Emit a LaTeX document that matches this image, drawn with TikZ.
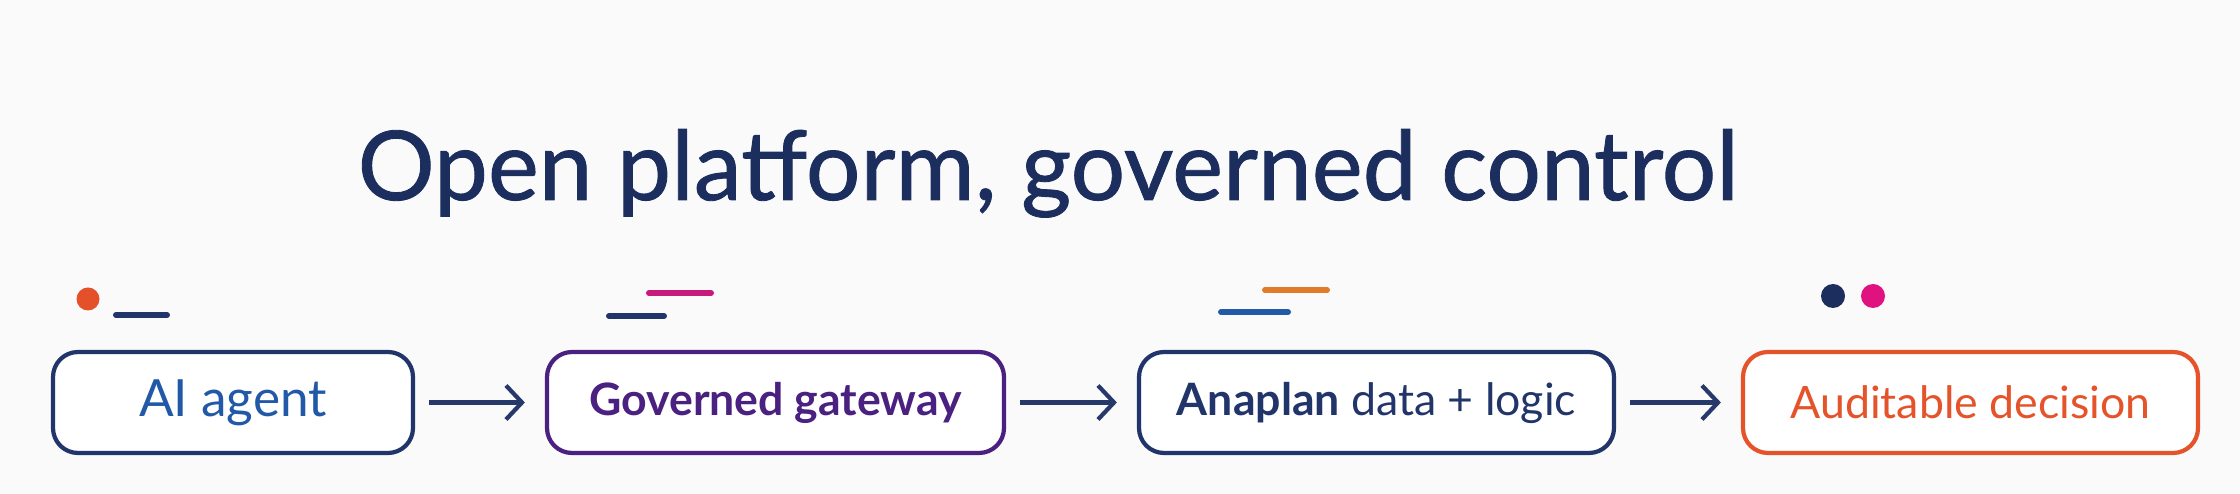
\documentclass[tikz,border=0pt]{standalone}
\usepackage{fontspec}
\setmainfont{Lato}
\newfontfamily\titlefont{Lato}[FakeBold=0.9]
\usetikzlibrary{arrows.meta}

\definecolor{bgwhite}{HTML}{FAFAFB}
\definecolor{titlenavy}{HTML}{1C2E5E}
\definecolor{boxnavy}{HTML}{22356A}
\definecolor{textblue}{HTML}{2159A8}
\definecolor{gatepurple}{HTML}{4A2080}
\definecolor{decorange}{HTML}{E5532B}
\definecolor{arrownavy}{HTML}{27396B}
\definecolor{dotorange}{HTML}{E4502A}
\definecolor{dashmagenta}{HTML}{C81A7C}
\definecolor{dotmagenta}{HTML}{E0127F}
\definecolor{dashblue}{HTML}{2359A6}
\definecolor{dashorange}{HTML}{E07B2A}

\tikzset{
  stepbox/.style={draw, rounded corners=0.25cm, line width=1.2pt,
    minimum height=1.01cm, inner sep=0pt, fill=white,
    font=\fontsize{12.7}{15}\selectfont},
  flow/.style={-{Straight Barb[length=1.6mm,width=3.4mm]}, line width=1.2pt,
    draw=arrownavy, shorten <=0.14cm, shorten >=0.2cm},
  tick/.style={line width=1.7pt, line cap=round},
}

\begin{document}
\begin{tikzpicture}
		\fill[bgwhite] (0,0) rectangle (22.4,4.94);
		\useasboundingbox (0,0) rectangle (22.4,4.94);
		
		%%%%%%%%%%%%%%%%% title %%%%%%%%%%%%%%%%%%%%%%
		\node[anchor=base west, inner sep=0pt, text=titlenavy,
		font=\titlefont\fontsize{27.4}{33}\selectfont] (title) at (3.57,2.94)
		{Open platform, governed control};
		
		%%%%%%%%%%%%%%%%% vertices %%%%%%%%%%%%%%%%%%%
		%  name/x/width/border/text colour/label
		\foreach \name/\x/\w/\col/\tcol/\lab in
		{agent/2.33/3.60/boxnavy/textblue/{\fontsize{14.6}{17}\selectfont AI agent},
			gateway/7.755/4.57/gatepurple/gatepurple/{\textbf{Governed gateway}},
			anaplan/13.765/4.75/boxnavy/boxnavy/{\textbf{Anaplan} data + logic},
			decision/19.705/4.55/decorange/decorange/{Auditable decision}}
		{\node[stepbox, draw=\col, text=\tcol, minimum width=\w cm] (\name) at (\x,0.915) {\lab};}
		
		%%%%%%%%%%%%%%%%% edges %%%%%%%%%%%%%%%%%%%%%%%
		\foreach \from/\to in {agent/gateway,gateway/anaplan,anaplan/decision}
		{\draw[flow] (\from) -- (\to);}
		
		%%%%%%%%%%%%%%%%% marks above the boxes %%%%%%%
		\fill[dotorange] (0.88,1.95) circle (0.115);
		\draw[tick, boxnavy] (1.16,1.79) -- (1.67,1.79);
		
		\draw[tick, boxnavy] (6.09,1.78) -- (6.64,1.78);
		\draw[tick, dashmagenta] (6.49,2.01) -- (7.11,2.01);
		
		\draw[tick, dashblue] (12.21,1.82) -- (12.88,1.82);
		\draw[tick, dashorange] (12.65,2.04) -- (13.27,2.04);
		
		\fill[titlenavy] (18.33,1.98) circle (0.12);
		\fill[dotmagenta] (18.73,1.98) circle (0.12);
\end{tikzpicture}
\end{document}
